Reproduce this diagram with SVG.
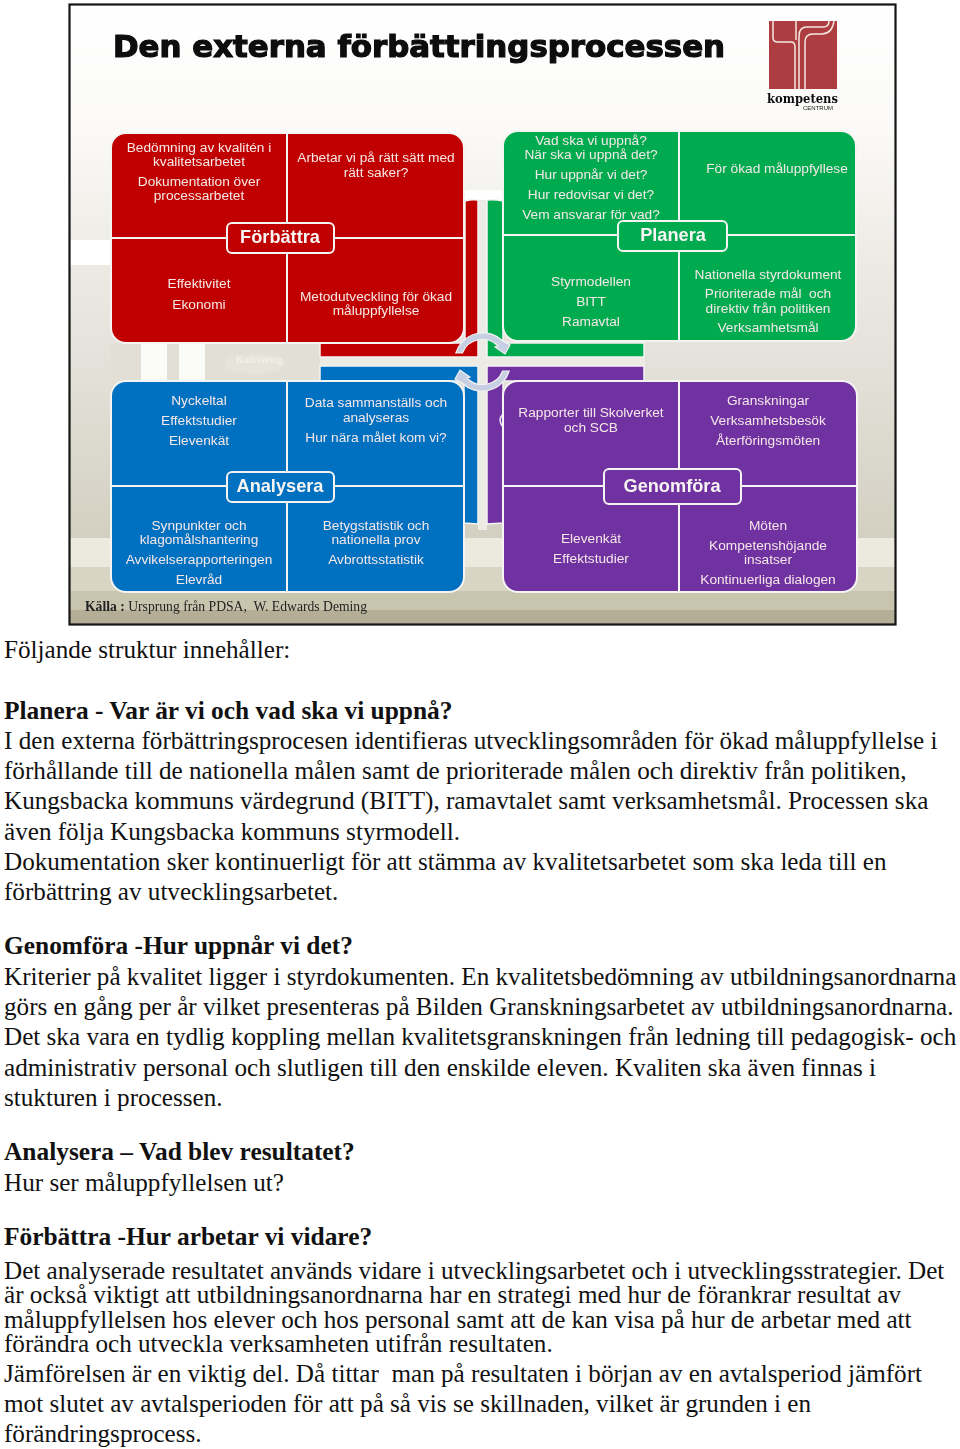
<svg xmlns="http://www.w3.org/2000/svg" width="960" height="1449" viewBox="0 0 960 1449">
<defs>
<linearGradient id="bg" x1="0" y1="0" x2="0" y2="1">
<stop offset="0" stop-color="#ffffff"/><stop offset="0.2" stop-color="#fbfaf8"/><stop offset="0.42" stop-color="#eceae3"/><stop offset="0.58" stop-color="#e3e1d9"/><stop offset="0.86" stop-color="#d3d0c1"/><stop offset="1" stop-color="#cfcbb9"/>
</linearGradient>
<filter id="soft" x="-2%" y="-2%" width="104%" height="104%"><feGaussianBlur stdDeviation="0.45"/></filter>
<filter id="smudge" x="-30%" y="-30%" width="160%" height="160%"><feGaussianBlur stdDeviation="1.6"/></filter>
</defs>
<style>
text{white-space:pre}
.pn{stroke:#f4f4f2;stroke-width:2}
.dv{stroke:#f4f4f2;stroke-width:2;fill:none}
.btn{stroke:#f4f4f2;stroke-width:2}
.bar{stroke:#f4f4f2;stroke-width:1.5}
.r{fill:#c00000}.g{fill:#00ab50}.b{fill:#0070c0}.p{fill:#7030a0}
.t{font-family:"Liberation Sans",Arial,sans-serif;font-size:13.7px;fill:#f5e8e8;text-anchor:middle}
.bt{font-family:"Liberation Sans",Arial,sans-serif;font-size:18.2px;font-weight:bold;fill:#f8f4f4;text-anchor:middle}
.body{font-family:"Liberation Serif","Times New Roman",serif;font-size:25.15px;fill:#111}
.bb{font-weight:bold;font-size:25.4px}
.arrow{fill:#c6d0e2;stroke:#f2f2f2;stroke-width:1.2}
</style>
<rect width="960" height="1449" fill="#ffffff"/>
<g id="slide" filter="url(#soft)">
<g id="background">
<rect x="69" y="4" width="827" height="621" fill="url(#bg)"/>
<rect x="69" y="240" width="60" height="25" fill="#ffffff"/>
<rect x="460" y="190" width="48" height="10" fill="#ffffff"/>
<rect x="69" y="538" width="827" height="29" fill="#ece9df"/>
<rect x="69" y="567" width="827" height="24" fill="#d9d5c4"/>
<rect x="69" y="591" width="827" height="19" fill="#c9c4ae"/>
<rect x="69" y="610" width="827" height="15" fill="#b5ae97"/>
<rect x="111" y="343" width="209" height="38" fill="#e2dfd6"/>
<rect x="141" y="343" width="26" height="38" fill="#fbfbfa"/>
<rect x="179" y="343" width="26" height="38" fill="#fbfbfa"/>
<rect x="478" y="200" width="9" height="330" fill="#ecebe4"/>
<rect x="320" y="357" width="325" height="9" fill="#ecebe4"/>
<ellipse cx="255" cy="364" rx="30" ry="10" fill="#e7e4dc" filter="url(#smudge)"/>
<text x="236" y="363" font-family="'Liberation Serif',serif" font-size="10px" fill="#f6f4ee" textLength="47" lengthAdjust="spacingAndGlyphs">Kalkvering</text>
</g>
<g id="bars">
<path class="bar r" d="M465 201 Q472 199 478 200 V357 H320 V343 H465Z"/>
<path class="bar g" d="M487 200 Q494 199 503 201 V343 H644 V357 H487Z"/>
<path class="bar b" d="M320 366 H478 V524 L464 523 V381 H320Z"/>
<path class="bar p" d="M487 366 H644 V381 H503 V523 L487 524Z"/>
<path d="M503 414 Q497 420 503 427" fill="none" stroke="#eee6f2" stroke-width="1.5"/>
</g>
<g id="title">
<text x="113" y="57" font-family="'DejaVu Sans',Verdana,sans-serif" font-weight="bold" font-size="30px" fill="#0a0a0a" stroke="#0a0a0a" stroke-width="1.2" textLength="612" lengthAdjust="spacingAndGlyphs">Den externa förbättringsprocessen</text>
</g>
<g id="logo">
<rect x="769" y="21" width="68" height="68" fill="#ad3e3f"/>
<g fill="none" stroke="#f5e9e2" stroke-width="1.5">
<path d="M773 21 V38 Q773 42 778 42 H791 Q795 42 795 47 V89"/>
<path d="M796 21 V40"/>
<path d="M799 89 V36 Q799 27 807 27 H823 Q829 27 829 21"/>
<path d="M805 89 V42 Q805 34 813 34 H822 Q832 34 834 21"/>
</g>
<text x="767" y="103" font-family="'DejaVu Serif',serif" font-weight="bold" font-size="12px" fill="#111" textLength="71" lengthAdjust="spacingAndGlyphs">kompetens</text>
<text x="803" y="110" font-family="'Liberation Sans',sans-serif" font-size="5px" fill="#222" textLength="30" lengthAdjust="spacingAndGlyphs">CENTRUM</text>
</g>
<g id="node-forbattra">
<rect class="pn r" x="111" y="133" width="353" height="210" rx="15"/>
<path class="dv" d="M287 133 V343 M111 238 H464"/>
<text class="t"><tspan x="199" y="152">Bedömning av kvalitén i</tspan><tspan x="199" y="166">kvalitetsarbetet</tspan><tspan x="199" y="186">Dokumentation över</tspan><tspan x="199" y="200">processarbetet</tspan></text>
<text class="t"><tspan x="376" y="162">Arbetar vi på rätt sätt med</tspan><tspan x="376" y="177">rätt saker?</tspan></text>
<text class="t"><tspan x="199" y="288">Effektivitet</tspan><tspan x="199" y="309">Ekonomi</tspan></text>
<text class="t"><tspan x="376" y="301">Metodutveckling för ökad</tspan><tspan x="376" y="315">måluppfyllelse</tspan></text>
<rect class="btn r" x="227" y="223" width="107" height="30" rx="5"/>
<text class="bt" x="280" y="243">Förbättra</text>
</g>
<g id="node-planera">
<rect class="pn g" x="503" y="131" width="353" height="210" rx="15"/>
<path class="dv" d="M679 131 V341 M503 235 H856"/>
<text class="t"><tspan x="591" y="145">Vad ska vi uppnå?</tspan><tspan x="591" y="159">När ska vi uppnå det?</tspan><tspan x="591" y="179">Hur uppnår vi det?</tspan><tspan x="591" y="199">Hur redovisar vi det?</tspan><tspan x="591" y="219">Vem ansvarar för vad?</tspan></text>
<text class="t" x="777" y="173">För ökad måluppfyllese</text>
<text class="t"><tspan x="591" y="286">Styrmodellen</tspan><tspan x="591" y="306">BITT</tspan><tspan x="591" y="326">Ramavtal</tspan></text>
<text class="t"><tspan x="768" y="279">Nationella styrdokument</tspan><tspan x="768" y="298">Prioriterade mål  och</tspan><tspan x="768" y="313">direktiv från politiken</tspan><tspan x="768" y="332">Verksamhetsmål</tspan></text>
<rect class="btn g" x="618" y="221" width="109" height="30" rx="5"/>
<text class="bt" x="673" y="241">Planera</text>
</g>
<g id="node-analysera">
<rect class="pn b" x="111" y="381" width="353" height="211" rx="15"/>
<path class="dv" d="M287 381 V592 M111 486 H464"/>
<text class="t"><tspan x="199" y="405">Nyckeltal</tspan><tspan x="199" y="425">Effektstudier</tspan><tspan x="199" y="445">Elevenkät</tspan></text>
<text class="t"><tspan x="376" y="407">Data sammanställs och</tspan><tspan x="376" y="422">analyseras</tspan><tspan x="376" y="442">Hur nära målet kom vi?</tspan></text>
<text class="t"><tspan x="199" y="530">Synpunkter och</tspan><tspan x="199" y="544">klagomålshantering</tspan><tspan x="199" y="564">Avvikelserapporteringen</tspan><tspan x="199" y="584">Elevråd</tspan></text>
<text class="t"><tspan x="376" y="530">Betygstatistik och</tspan><tspan x="376" y="544">nationella prov</tspan><tspan x="376" y="564">Avbrottsstatistik</tspan></text>
<rect class="btn b" x="227" y="472" width="107" height="30" rx="5"/>
<text class="bt" x="280" y="492">Analysera</text>
</g>
<g id="node-genomfora">
<rect class="pn p" x="503" y="381" width="354" height="211" rx="15"/>
<path class="dv" d="M679 381 V592 M503 486 H857"/>
<text class="t"><tspan x="591" y="417">Rapporter till Skolverket</tspan><tspan x="591" y="432">och SCB</tspan></text>
<text class="t"><tspan x="768" y="405">Granskningar</tspan><tspan x="768" y="425">Verksamhetsbesök</tspan><tspan x="768" y="445">Återföringsmöten</tspan></text>
<text class="t"><tspan x="591" y="543">Elevenkät</tspan><tspan x="591" y="563">Effektstudier</tspan></text>
<text class="t"><tspan x="768" y="530">Möten</tspan><tspan x="768" y="550">Kompetenshöjande</tspan><tspan x="768" y="564">insatser</tspan><tspan x="768" y="584">Kontinuerliga dialogen</tspan></text>
<rect class="btn p" x="604" y="469" width="137" height="35" rx="5"/>
<text class="bt" x="672" y="492">Genomföra</text>
</g>
<g id="connectors">
<path class="arrow" d="M455.8 353 A28.5 28.5 0 0 1 503 341 L510 345 L505 354 L495 347 L498 346 A21.5 21.5 0 0 0 462.4 353Z"/>
<path class="arrow" transform="rotate(180 482.5 362)" d="M455.8 353 A28.5 28.5 0 0 1 503 341 L510 345 L505 354 L495 347 L498 346 A21.5 21.5 0 0 0 462.4 353Z"/>
</g>
<g id="source">
<text x="85" y="611" font-family="'Liberation Serif',serif" font-size="14px" fill="#222" textLength="282" lengthAdjust="spacingAndGlyphs"><tspan font-weight="bold">Källa :</tspan> Ursprung från PDSA,  W. Edwards Deming</text>
</g>
<rect id="frame" x="69.5" y="4.5" width="826" height="620" fill="none" stroke="#151515" stroke-width="2.2"/>
</g>
<g id="body-text" class="body" transform="translate(0 0.6)">
<text x="4" y="657">Följande struktur innehåller:</text>
<text class="bb" x="4" y="718">Planera - Var är vi och vad ska vi uppnå?</text>
<text x="4" y="748">I den externa förbättringsprocesen identifieras utvecklingsområden för ökad måluppfyllelse i</text>
<text x="4" y="778">förhållande till de nationella målen samt de prioriterade målen och direktiv från politiken,</text>
<text x="4" y="808">Kungsbacka kommuns värdegrund (BITT), ramavtalet samt verksamhetsmål. Processen ska</text>
<text x="4" y="839">även följa Kungsbacka kommuns styrmodell.</text>
<text x="4" y="869">Dokumentation sker kontinuerligt för att stämma av kvalitetsarbetet som ska leda till en</text>
<text x="4" y="899">förbättring av utvecklingsarbetet.</text>
<text class="bb" x="4" y="953">Genomföra -Hur uppnår vi det?</text>
<text x="4" y="984">Kriterier på kvalitet ligger i styrdokumenten. En kvalitetsbedömning av utbildningsanordnarna</text>
<text x="4" y="1014">görs en gång per år vilket presenteras på Bilden Granskningsarbetet av utbildningsanordnarna.</text>
<text x="4" y="1044">Det ska vara en tydlig koppling mellan kvalitetsgranskningen från ledning till pedagogisk- och</text>
<text x="4" y="1075">administrativ personal och slutligen till den enskilde eleven. Kvaliten ska även finnas i</text>
<text x="4" y="1105">stukturen i processen.</text>
<text class="bb" x="4" y="1159">Analysera – Vad blev resultatet?</text>
<text x="4" y="1190">Hur ser måluppfyllelsen ut?</text>
<text class="bb" x="4" y="1244">Förbättra -Hur arbetar vi vidare?</text>
<text x="4" y="1278">Det analyserade resultatet används vidare i utvecklingsarbetet och i utvecklingsstrategier. Det</text>
<text x="4" y="1302">är också viktigt att utbildningsanordnarna har en strategi med hur de förankrar resultat av</text>
<text x="4" y="1327">måluppfyllelsen hos elever och hos personal samt att de kan visa på hur de arbetar med att</text>
<text x="4" y="1351">förändra och utveckla verksamheten utifrån resultaten.</text>
<text x="4" y="1381">Jämförelsen är en viktig del. Då tittar  man på resultaten i början av en avtalsperiod jämfört</text>
<text x="4" y="1411">mot slutet av avtalsperioden för att på så vis se skillnaden, vilket är grunden i en</text>
<text x="4" y="1441">förändringsprocess.</text>
</g>
</svg>
